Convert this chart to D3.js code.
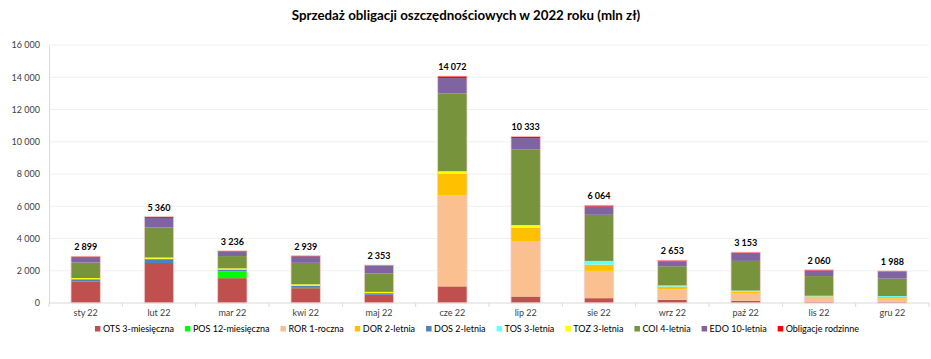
<!DOCTYPE html>
<html>
<head>
<meta charset="utf-8">
<script src="https://cdn.jsdelivr.net/npm/d3@7"></script>
<style>
  html, body { margin: 0; padding: 0; background: #fff; }
  svg { display: block; font-family: Lato, "Liberation Sans", sans-serif; }
</style>
</head>
<body>
<svg id="chart" width="931" height="359"></svg>
<script>
const months = ["sty 22","lut 22","mar 22","kwi 22","maj 22","cze 22","lip 22","sie 22","wrz 22","paź 22","lis 22","gru 22"];
const seriesNames = ["OTS 3-miesięczna","POS 12-miesięczna","ROR 1-roczna","DOR 2-letnia","DOS 2-letnia","TOS 3-letnia","TOZ 3-letnia","COI 4-letnia","EDO 10-letnia","Obligacje rodzinne"];
const seriesColors = ["#c0504d","#00ff00","#fac090","#ffc000","#4f81bd","#66ffff","#ffff00","#77933c","#8064a2","#ff0000"];
const OTS = [1340,2480,1540,920,510,1030,400,300,200,140,80,70];
const POS = [0,0,420,20,0,0,0,0,0,0,0,0];
const ROR = [0,0,0,0,0,5660,3440,1690,640,450,250,200];
const DOR = [0,0,0,0,0,1340,830,390,180,120,80,100];
const DOS = [130,240,110,130,100,0,0,0,0,0,0,0];
const TOS = [20,20,20,20,10,0,0,230,70,60,40,60];
const TOZ = [60,80,60,70,70,140,160,0,0,0,0,0];
const COI = [960,1860,760,1330,1150,4830,4680,2860,1190,1840,1220,1080];
const EDO = [340,600,270,410,470,950,720,515,310,500,350,430];
const ROD = [49,80,56,39,43,122,103,79,63,43,40,48];
const yTicks = [0,2000,4000,6000,8000,10000,12000,14000,16000];
const title = "Sprzedaż obligacji oszczędnościowych w 2022 roku (mln zł)";

const seriesValues = [OTS,POS,ROR,DOR,DOS,TOS,TOZ,COI,EDO,ROD];
const rows = months.map((m,i) => {
  const r = {month: m};
  seriesNames.forEach((s,j) => r[s] = seriesValues[j][i]);
  return r;
});

const svg = d3.select("#chart");
const margin = {left: 49, right: 2, top: 45, bottom: 56};
const W = 931, H = 359;
const x = d3.scaleBand().domain(months).range([margin.left, W - margin.right]).paddingInner(0.6).paddingOuter(0.3);
const y = d3.scaleLinear().domain([0,16000]).range([H - margin.bottom, margin.top]);
const loc = d3.formatLocale({decimal: ",", thousands: "\u00a0", grouping: [3], currency: ["", " zł"]});
const fmt = loc.format(",d");

// title
svg.append("text").attr("x", 466).attr("y", 20).attr("text-anchor","middle")
  .attr("font-weight","bold").attr("font-size","13.3px").attr("fill","#000").text(title);

// gridlines
svg.append("g").selectAll("line").data(yTicks.filter(d=>d>0)).join("line")
  .attr("x1", margin.left).attr("x2", W - margin.right)
  .attr("y1", d=>y(d)).attr("y2", d=>y(d))
  .attr("stroke","#f0f0f0").attr("stroke-width",1);

// y axis
const yAxis = svg.append("g").attr("transform",`translate(${margin.left},0)`)
  .call(d3.axisLeft(y).tickValues(yTicks).tickFormat(fmt).tickSize(0).tickPadding(9));
yAxis.select(".domain").attr("stroke","#d9d9d9");
yAxis.selectAll("text").attr("font-size","9px").attr("fill","#404040").attr("font-family","Lato, sans-serif");

// stacked bars
const stack = d3.stack().keys(seriesNames);
const layers = stack(rows);
svg.append("g").selectAll("g").data(layers).join("g")
  .attr("fill", (d,i)=>seriesColors[i])
  .selectAll("rect").data(d=>d).join("rect")
  .attr("x", d=>x(d.data.month))
  .attr("width", x.bandwidth())
  .attr("y", d=>y(d[1]))
  .attr("height", d=>Math.max(0, y(d[0]) - y(d[1])));

// bar outline (light)
svg.append("g").selectAll("rect").data(rows).join("rect")
  .attr("x", d=>x(d.month)).attr("width", x.bandwidth())
  .attr("y", d=>y(d3.sum(seriesNames, s=>d[s])))
  .attr("height", d=>y(0) - y(d3.sum(seriesNames, s=>d[s])))
  .attr("fill","none").attr("stroke","#f2d0d0").attr("stroke-width",0.8);

// x axis
const xAxisG = svg.append("g").attr("transform",`translate(0,${y(0)})`);
xAxisG.append("line").attr("x1", margin.left).attr("x2", W - margin.right).attr("y1",0).attr("y2",0).attr("stroke","#d9d9d9");
const step = x.step();
const bounds = d3.range(months.length + 1).map(i => margin.left + i*step);
xAxisG.selectAll("line.tk").data(bounds).join("line").attr("class","tk")
  .attr("x1", d=>d).attr("x2", d=>d).attr("y1",0).attr("y2",4).attr("stroke","#d9d9d9");
xAxisG.selectAll("text").data(months).join("text")
  .attr("x", d=>x(d)+x.bandwidth()/2).attr("y", 13).attr("text-anchor","middle")
  .attr("font-size","9px").attr("fill","#404040").text(d=>d);

// totals
svg.append("g").selectAll("text").data(rows).join("text")
  .attr("x", d=>x(d.month)+x.bandwidth()/2)
  .attr("y", d=>y(d3.sum(seriesNames, s=>d[s])) - 6)
  .attr("text-anchor","middle").attr("font-weight","bold").attr("font-size","9px").attr("fill","#000")
  .text(d=>fmt(d3.sum(seriesNames, s=>d[s])));

// legend
const leg = svg.append("g");
let cx = 0;
const items = [];
seriesNames.forEach((s,i) => {
  const g = leg.append("g");
  g.append("rect").attr("x",0).attr("y",-5).attr("width",5.5).attr("height",5.5).attr("fill",seriesColors[i]);
  const t = g.append("text").attr("x",8).attr("y",0.5).attr("font-size","9px").attr("fill","#000").text(s);
  const w = 8 + t.node().getComputedTextLength();
  g.attr("transform",`translate(${cx},0)`);
  cx += w + 11;
});
const totalW = cx - 11;
leg.attr("transform",`translate(${477 - totalW/2},331)`);
</script>
</body>
</html>
